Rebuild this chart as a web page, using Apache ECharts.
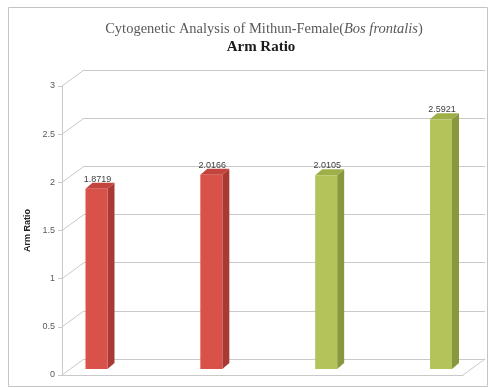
<!DOCTYPE html>
<html>
<head>
<meta charset="utf-8">
<script src="https://cdn.jsdelivr.net/npm/echarts@6/dist/echarts.min.js"></script>
<style>
  html, body { margin: 0; padding: 0; background: #fff; }
  #chart { width: 492px; height: 388px; }
</style>
</head>
<body>
<div id="chart"></div>
<script>
// Arm ratio per sample, drawn as pseudo-3D columns
const categories = ['1', '2', '3', '4'];
const armRatio = [1.8719, 2.0166, 2.0105, 2.5921];
const barGroup = ['red', 'red', 'green', 'green'];
const yTicks = [0, 0.5, 1, 1.5, 2, 2.5, 3];

// depth of the side wall / floor (pixels)
const WALL_DX = 22, WALL_DY = 16;
// depth of each column
const BAR_DX = 7, BAR_DY = 6, BAR_HALF = 11;

const palette = {
  red:   { front: '#D9524A', side: '#A83A33', top: '#C2443C' },
  green: { front: '#B4C35A', side: '#8A983D', top: '#9FAF48' }
};
const gridColor = '#C9C9C9';

const chart = echarts.init(document.getElementById('chart'));

chart.setOption({
  animation: false,
  backgroundColor: '#ffffff',
  title: [
    {
      text: 'Cytogenetic Analysis of Mithun-Female({i|Bos frontalis})',
      left: 259, top: 17, textAlign: 'center',
      textStyle: {
        fontFamily: 'Liberation Serif', fontSize: 14.5, fontWeight: 'normal', color: '#595959',
        rich: { i: { fontFamily: 'Liberation Serif', fontSize: 14.5, fontStyle: 'italic', color: '#595959' } }
      }
    },
    {
      text: 'Arm Ratio',
      left: 256, top: 35, textAlign: 'center',
      textStyle: { fontFamily: 'Liberation Serif', fontSize: 15, fontWeight: 'bold', color: '#1a1a1a' }
    }
  ],
  graphic: [
    { type: 'rect', shape: { x: 8.5, y: 7.5, width: 479, height: 379 },
      style: { fill: 'none', stroke: '#C4C4C4', lineWidth: 1 }, silent: true }
  ],
  grid: [
    { left: 62, right: 29, top: 86, bottom: 13 },   // front plane (axis)
    { left: 84, right: 7, top: 70, bottom: 29 },    // back wall
    { left: 96.5, right: 51, top: 80, bottom: 19 }  // column plane
  ],
  xAxis: [
    { gridIndex: 0, type: 'value', min: 0, max: 1,
      axisLine: { show: true, lineStyle: { color: gridColor } },
      axisTick: { show: false }, axisLabel: { show: false }, splitLine: { show: false } },
    { gridIndex: 1, type: 'value', min: 0, max: 1, show: false },
    { gridIndex: 2, type: 'category', data: categories, boundaryGap: false, show: false }
  ],
  yAxis: [
    { gridIndex: 0, type: 'value', min: 0, max: 3, interval: 0.5,
      name: 'Arm Ratio', nameLocation: 'middle', nameGap: 16,
      nameTextStyle: { fontFamily: 'Liberation Sans', fontSize: 9, fontWeight: 'bold', color: '#222' },
      axisLine: { show: true, lineStyle: { color: gridColor } },
      axisTick: { show: true, length: 4, lineStyle: { color: gridColor } },
      axisLabel: { fontFamily: 'Liberation Sans', fontSize: 9, color: '#595959', margin: 7 },
      splitLine: { show: false } },
    { gridIndex: 1, type: 'value', min: 0, max: 3, interval: 0.5,
      axisLine: { show: false }, axisTick: { show: false }, axisLabel: { show: false },
      splitLine: { show: true, lineStyle: { color: gridColor, width: 1 } } },
    { gridIndex: 2, type: 'value', min: 0, max: 3, show: false }
  ],
  series: [
    {
      // side-wall diagonals from the front axis back to the wall, plus floor edge
      type: 'custom', xAxisIndex: 0, yAxisIndex: 0, silent: true,
      data: yTicks.map(v => [0, v]).concat([[1, 0]]),
      renderItem: function (params, api) {
        const p = api.coord([api.value(0), api.value(1)]);
        return {
          type: 'line',
          shape: { x1: p[0], y1: p[1], x2: p[0] + WALL_DX, y2: p[1] - WALL_DY },
          style: { stroke: gridColor, lineWidth: 1 }
        };
      }
    },
    {
      type: 'custom', xAxisIndex: 2, yAxisIndex: 2, silent: true,
      data: armRatio.map((v, i) => [i, v]),
      renderItem: function (params, api) {
        const i = api.value(0), v = api.value(1);
        const top = api.coord([i, v]);
        const base = api.coord([i, 0]);
        const c = palette[barGroup[params.dataIndex]];
        const xl = top[0] - BAR_HALF, xr = top[0] + BAR_HALF;
        const yt = top[1], yb = base[1];
        return {
          type: 'group',
          children: [
            { type: 'polygon',
              shape: { points: [[xr, yt], [xr + BAR_DX, yt - BAR_DY], [xr + BAR_DX, yb - BAR_DY], [xr, yb]] },
              style: { fill: c.side } },
            { type: 'polygon',
              shape: { points: [[xl, yt], [xr, yt], [xr + BAR_DX, yt - BAR_DY], [xl + BAR_DX, yt - BAR_DY]] },
              style: { fill: c.top } },
            { type: 'rect',
              shape: { x: xl, y: yt, width: xr - xl, height: yb - yt },
              style: { fill: c.front } },
            { type: 'text',
              style: {
                x: top[0] + 1, y: yt - 5,
                text: v.toFixed(4),
                textAlign: 'center', textVerticalAlign: 'bottom',
                fontFamily: 'Liberation Sans', fontSize: 9, fill: '#404040'
              } }
          ]
        };
      }
    }
  ]
});
</script>
</body>
</html>
